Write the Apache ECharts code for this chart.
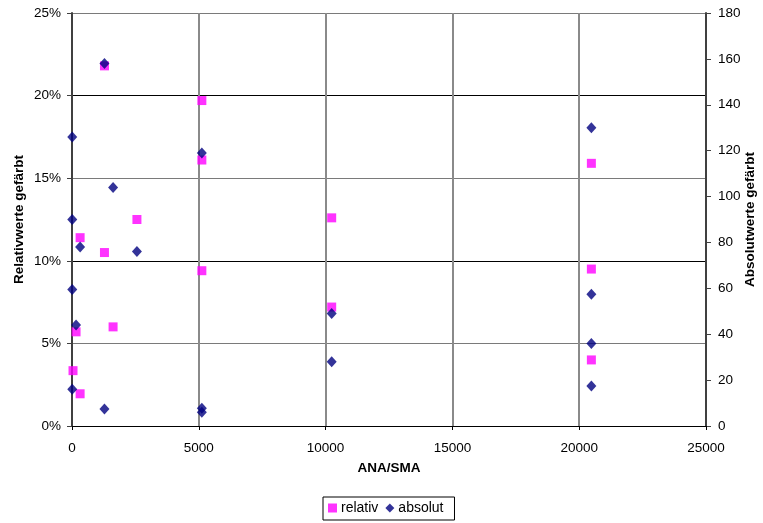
<!DOCTYPE html>
<html><head><meta charset="utf-8">
<script src="https://cdn.jsdelivr.net/npm/echarts@6/dist/echarts.min.js"></script>
<style>html,body{margin:0;padding:0;background:#fff}#c{width:763px;height:523px}</style>
</head><body><div id="c"></div>
<script>
// relativ (fraction of cells stained) vs ANA/SMA titer
const relX = [1280, 5120, 5120, 20480, 10240, 2560, 320, 1280, 20480, 5120, 10240, 1620, 160, 20480, 40, 320];
const relY = [0.218, 0.197, 0.161, 0.159, 0.126, 0.125, 0.114, 0.105, 0.095, 0.094, 0.072, 0.060, 0.057, 0.040, 0.0335, 0.0195];
// absolut (count stained)
const absX = [1280, 20480, 10, 5120, 1620, 10, 320, 2560, 10, 20480, 10240, 160, 20480, 10240, 20480, 10, 5120, 1280, 5120];
const absY = [158, 130, 126, 119, 104, 90, 78, 76, 59.5, 57.4, 49, 44, 36, 28, 17.4, 16, 7.7, 7.4, 6.0];
const xTicks = [0, 5000, 10000, 15000, 20000, 25000];
const seriesNames = ['relativ', 'absolut'];

const font = 'Arial, "Liberation Sans", sans-serif';
const fs = 13.5;
const chart = echarts.init(document.getElementById('c'), null, {renderer: 'canvas'});
chart.setOption({
  animation: false,
  backgroundColor: '#fff',
  grid: {left: 72, right: 57, top: 13, bottom: 97, containLabel: false, outerBoundsMode: 'none'},
  legend: {
    data: [{name: seriesNames[0], icon: 'rect'}, {name: seriesNames[1], icon: 'diamond'}],
    left: 323, top: 497,
    borderColor: '#000', borderWidth: 1, padding: [4, 11, 5, 5],
    itemWidth: 9, itemHeight: 9, itemGap: 7,
    textStyle: {fontFamily: font, fontSize: 14, color: '#000', padding: [0, 0, 0, -1]}
  },
  xAxis: {
    type: 'value', min: xTicks[0], max: xTicks[xTicks.length - 1], interval: 5000,
    name: 'ANA/SMA', nameLocation: 'middle', nameGap: 35, nameMoveOverlap: false,
    nameTextStyle: {fontFamily: font, fontSize: fs, fontWeight: 'bold', color: '#000'},
    axisLine: {lineStyle: {color: '#000', width: 1}},
    axisTick: {show: true, length: 4, lineStyle: {color: '#000'}},
    axisLabel: {fontFamily: font, fontSize: fs, color: '#000', margin: 15, formatter: v => String(v)},
    splitLine: {show: true, lineStyle: {color: '#8a8a8a', width: 2}}
  },
  yAxis: [{
    type: 'value', min: 0, max: 0.25, interval: 0.05, position: 'left',
    name: 'Relativwerte gefärbt', nameLocation: 'middle', nameGap: 46, nameMoveOverlap: false,
    nameTextStyle: {fontFamily: font, fontSize: fs, fontWeight: 'bold', color: '#000'},
    axisLine: {show: true, lineStyle: {color: '#404040', width: 2}},
    axisTick: {show: true, length: 5, lineStyle: {color: '#404040'}},
    axisLabel: {fontFamily: font, fontSize: fs, color: '#000', margin: 11,
      formatter: v => Math.round(v * 100) + '%'},
    splitLine: {show: true, lineStyle: {color: ['#000', '#7a7a7a'], width: 1}}
  }, {
    type: 'value', min: 0, max: 180, interval: 20, position: 'right',
    name: 'Absolutwerte gefärbt', nameLocation: 'middle', nameGap: 37, nameRotate: 90, nameMoveOverlap: false,
    nameTextStyle: {fontFamily: font, fontSize: fs, fontWeight: 'bold', color: '#000'},
    axisLine: {show: true, lineStyle: {color: '#404040', width: 2}},
    axisTick: {show: true, length: 5, lineStyle: {color: '#404040'}},
    axisLabel: {fontFamily: font, fontSize: fs, color: '#000', margin: 12},
    splitLine: {show: false}
  }],
  series: [{
    name: seriesNames[0], type: 'scatter', yAxisIndex: 0,
    symbol: 'rect', symbolSize: 9,
    itemStyle: {color: '#FF00FF'},
    data: relX.map((x, i) => [x, relY[i]]), z: 2
  }, {
    name: seriesNames[1], type: 'scatter', yAxisIndex: 1,
    symbol: 'diamond', symbolSize: [10, 11],
    itemStyle: {color: '#000080'},
    data: absX.map((x, i) => [x, absY[i]]), z: 3
  }]
});
</script></body></html>
